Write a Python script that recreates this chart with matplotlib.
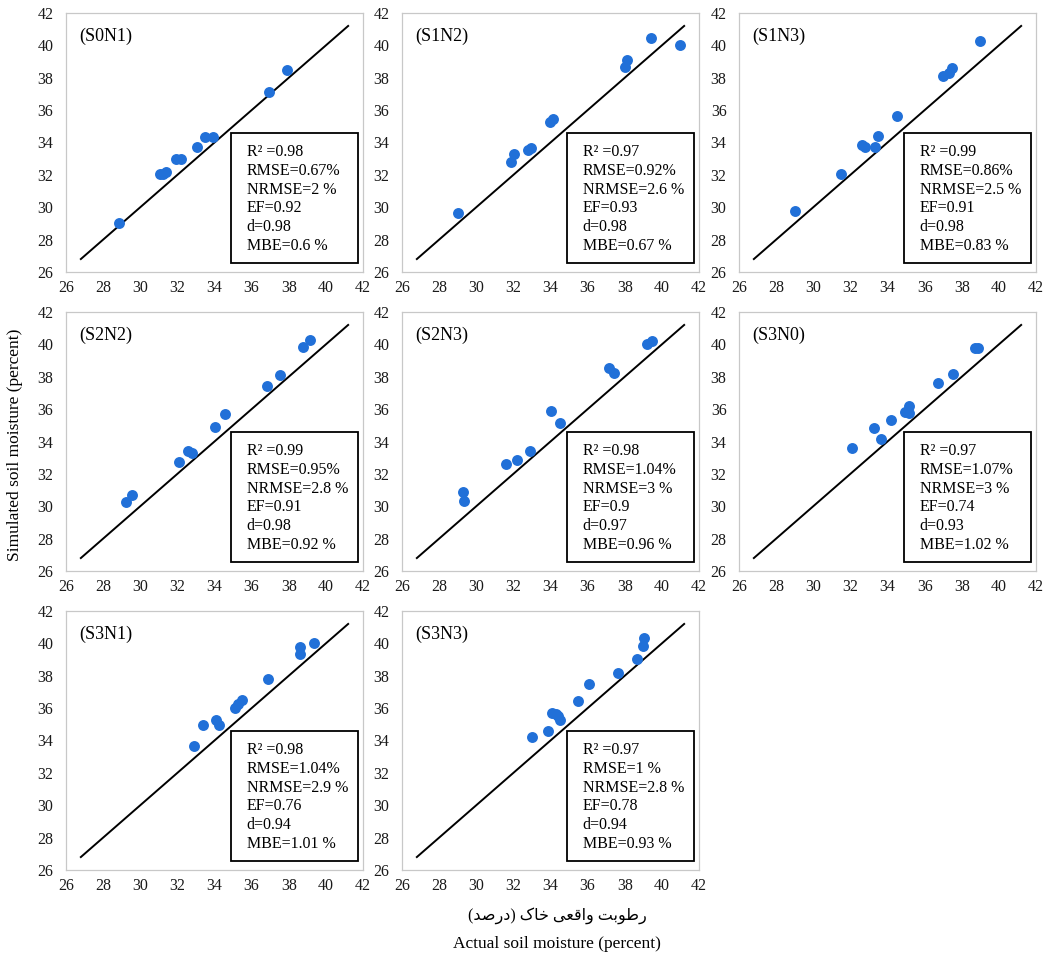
import matplotlib
matplotlib.use("Agg")
import matplotlib.pyplot as plt
from matplotlib.patches import Rectangle

plt.rcParams['font.family'] = ['Liberation Serif', 'DejaVu Sans']

# ---- data (actual, simulated) ----
panel_names = ["(S0N1)", "(S1N2)", "(S1N3)", "(S2N2)", "(S2N3)", "(S3N0)", "(S3N1)", "(S3N3)"]

s0n1_obs = [28.88, 31.04, 31.2, 31.4, 31.94, 32.18, 33.07, 33.5, 33.91, 36.94, 37.9]
s0n1_sim = [29.04, 32.05, 32.07, 32.2, 32.97, 32.97, 33.75, 34.31, 34.31, 37.1, 38.47]

s1n2_obs = [29.03, 31.89, 32.04, 32.81, 32.96, 33.96, 34.12, 37.99, 38.13, 39.41, 40.97]
s1n2_sim = [29.63, 32.79, 33.3, 33.55, 33.69, 35.29, 35.45, 38.66, 39.09, 40.46, 40.01]

s1n3_obs = [29.04, 31.52, 32.64, 32.8, 33.33, 33.47, 34.53, 37.01, 37.31, 37.5, 38.96]
s1n3_sim = [29.75, 32.07, 33.82, 33.75, 33.75, 34.43, 35.64, 38.1, 38.31, 38.62, 40.28]

s2n2_obs = [29.22, 29.54, 32.08, 32.56, 32.78, 34.05, 34.56, 36.85, 37.54, 38.77, 39.15]
s2n2_sim = [30.27, 30.7, 32.71, 33.43, 33.3, 34.92, 35.68, 37.45, 38.1, 39.83, 40.26]

s2n3_obs = [29.29, 29.33, 31.61, 32.17, 32.92, 34.0, 34.51, 37.15, 37.42, 39.18, 39.49]
s2n3_sim = [30.85, 30.34, 32.61, 32.85, 33.43, 35.91, 35.15, 38.53, 38.24, 40.04, 40.18]

s3n0_obs = [32.08, 33.28, 33.64, 34.19, 34.95, 35.17, 35.17, 36.73, 37.53, 38.73, 38.86]
s3n0_sim = [33.62, 34.85, 34.13, 35.31, 35.84, 36.19, 35.78, 37.63, 38.19, 39.8, 39.76]

s3n1_obs = [32.9, 33.37, 34.07, 34.22, 35.12, 35.28, 35.46, 36.9, 38.62, 38.62, 39.34]
s3n1_sim = [33.64, 34.94, 35.29, 34.98, 36.01, 36.28, 36.49, 37.77, 39.77, 39.36, 40.04]

s3n3_obs = [33.03, 33.89, 34.07, 34.29, 34.41, 34.52, 35.49, 36.08, 37.64, 38.65, 39.0, 39.04]
s3n3_sim = [34.19, 34.6, 35.7, 35.64, 35.53, 35.26, 36.42, 37.46, 38.17, 39.06, 39.84, 40.36]

r2 = ["0.98", "0.97", "0.99", "0.99", "0.98", "0.97", "0.98", "0.97"]
rmse = ["0.67%", "0.92%", "0.86%", "0.95%", "1.04%", "1.07%", "1.04%", "1 %"]
nrmse = ["2 %", "2.6 %", "2.5 %", "2.8 %", "3 %", "3 %", "2.9 %", "2.8 %"]
ef = ["0.92", "0.93", "0.91", "0.91", "0.9", "0.74", "0.76", "0.78"]
d_index = ["0.98", "0.98", "0.98", "0.98", "0.97", "0.93", "0.94", "0.94"]
mbe = ["0.6 %", "0.67 %", "0.83 %", "0.92 %", "0.96 %", "1.02 %", "1.01 %", "0.93 %"]

ticks = [26, 28, 30, 32, 34, 36, 38, 40, 42]
line_ends = [26.8, 41.2]

observed = [s0n1_obs, s1n2_obs, s1n3_obs, s2n2_obs, s2n3_obs, s3n0_obs, s3n1_obs, s3n3_obs]
simulated = [s0n1_sim, s1n2_sim, s1n3_sim, s2n2_sim, s2n3_sim, s3n0_sim, s3n1_sim, s3n3_sim]

# Persian x label, pre-shaped glyphs in visual order (matplotlib has no bidi)
fa_label = ("(\uFEAA\uFEBB\uFEAD\uFEA9) "
            "\uFB8E\uFE8E\uFEA7 "
            "\uFEF0\uFECC\uFED7\uFE8D\uFEED "
            "\uFE96\uFE91\uFEEE\uFEC3\uFEAD")

W, H = 1046, 957
fig = plt.figure(figsize=(W / 100, H / 100), dpi=100)

col_left = [66, 402, 739]
row_top = [13, 312, 611]
pw, ph = 297, 259

for k in range(8):
    r, c = divmod(k, 3)
    ax = fig.add_axes([col_left[c] / W, (H - row_top[r] - ph) / H, pw / W, ph / H])
    ax.set_xlim(26, 42)
    ax.set_ylim(26, 42)
    ax.set_xticks(ticks)
    ax.set_yticks(ticks)
    ax.tick_params(length=0, labelsize=11.5, labelcolor='#1a1a1a')
    ax.tick_params(axis='y', pad=9)
    ax.tick_params(axis='x', pad=6)
    for sp in ax.spines.values():
        sp.set_color('#C8C8C8')
        sp.set_linewidth(0.9)

    ax.plot(line_ends, line_ends, color='black', lw=1.4, zorder=2)
    ax.scatter(observed[k], simulated[k], s=62, color='#2170D8', zorder=3, linewidths=0)

    ax.text(0.045, 0.91, panel_names[k], transform=ax.transAxes, fontsize=13,
            ha='left', va='center')

    # stats box
    ax.add_patch(Rectangle((0.555, 0.035), 0.428, 0.50, transform=ax.transAxes,
                           fill=False, edgecolor='black', lw=1.3, zorder=4))
    lines = ["R\u00b2 =" + r2[k], "RMSE=" + rmse[k], "NRMSE=" + nrmse[k],
             "EF=" + ef[k], "d=" + d_index[k], "MBE=" + mbe[k]]
    for i, t in enumerate(lines):
        ax.text(0.608, 0.463 - i * 0.0724, t, transform=ax.transAxes, fontsize=11.5,
                ha='left', va='center', zorder=5)

fig.text(15 / W, 1 - 445 / H, "Simulated soil moisture (percent)", rotation=90,
         ha='center', va='center', fontsize=12.5)
fig.text(557 / W, 1 - 916 / H, fa_label, ha='center', va='center', fontsize=11.5,
         family=['Liberation Serif', 'DejaVu Sans'])
fig.text(557 / W, 1 - 944 / H, "Actual soil moisture (percent)", ha='center', va='center',
         fontsize=12.5)

fig.savefig("out.png", dpi=100)
